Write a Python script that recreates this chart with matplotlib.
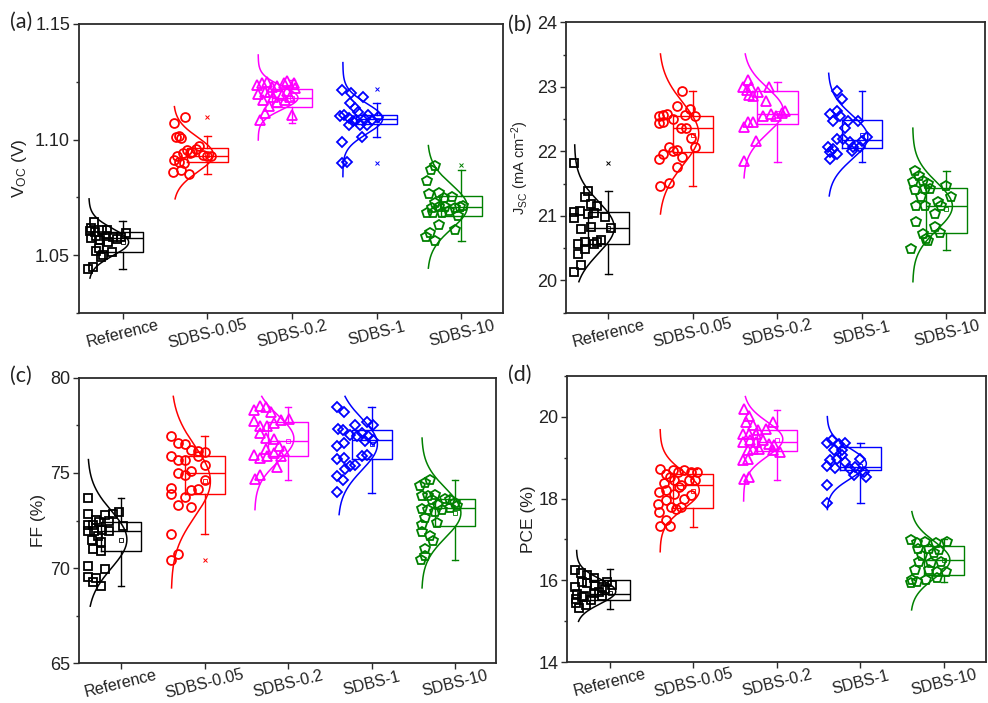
import numpy as np
import matplotlib
matplotlib.use("Agg")
import matplotlib.pyplot as plt
from matplotlib.ticker import MultipleLocator

# ---------------- data ----------------
categories = ["Reference", "SDBS-0.05", "SDBS-0.2", "SDBS-1", "SDBS-10"]

# (a) Voc
voc_ref = [1.0646,1.0606,1.0603,1.0608,1.0575,1.0582,1.0567,1.0579,1.0570,1.0596,1.0531,1.0521,1.0513,1.0491,1.0441,1.0452,1.0610,1.0579,1.0503,1.0582,1.0618,1.0556]
voc_ref_dx = [-0.34,-0.39,-0.33,-0.24,-0.37,-0.20,-0.27,-0.12,-0.07,0.04,-0.28,-0.31,-0.13,-0.26,-0.41,-0.35,-0.19,-0.02,-0.23,-0.31,-0.38,-0.17]
voc_005 = [1.1099,1.1070,1.1013,1.1006,1.0912,1.0905,1.0898,1.0862,1.0869,1.0852,1.0944,1.0955,1.0948,1.0973,1.0958,1.0934,1.0929,1.0927,1.1016,1.0941,1.0927]
voc_005_dx = [-0.26,-0.40,-0.37,-0.31,-0.39,-0.34,-0.28,-0.41,-0.31,-0.22,-0.29,-0.24,-0.18,-0.10,-0.14,-0.05,0.00,0.04,-0.34,-0.20,-0.36]
voc_02 = [1.1236,1.1243,1.1250,1.1197,1.1207,1.1226,1.1231,1.1246,1.1253,1.1243,1.1221,1.1185,1.1171,1.1164,1.1145,1.1113,1.1085,1.1106,1.1192,1.1185,1.1171,1.1211,1.1207]
voc_02_dx = [-0.42,-0.36,-0.30,-0.40,-0.32,-0.24,-0.18,-0.10,-0.06,0.02,0.04,-0.02,-0.08,-0.18,-0.27,-0.32,-0.38,0.00,-0.12,-0.22,-0.34,-0.06,-0.26]
voc_1 = [1.1214,1.1200,1.1182,1.1157,1.1135,1.1106,1.1092,1.1085,1.1106,1.1085,1.1096,1.1063,1.1013,1.0991,1.0898,1.0905,1.1063,1.1063,1.1102,1.1120,1.1078,1.1090]
voc_1_dx = [-0.41,-0.30,-0.16,-0.31,-0.26,-0.39,-0.33,-0.24,-0.10,-0.06,0.02,-0.12,-0.17,-0.41,-0.41,-0.35,-0.33,-0.20,-0.43,-0.22,-0.28,-0.14]
voc_10 = [1.0886,1.0869,1.0819,1.0766,1.0769,1.0725,1.0747,1.0754,1.0682,1.0682,1.0685,1.0690,1.0704,1.0711,1.0714,1.0668,1.0632,1.0596,1.0579,1.0560,1.0610,1.0704,1.0711,1.0711]
voc_10_dx = [-0.31,-0.36,-0.41,-0.38,-0.26,-0.31,-0.20,-0.11,-0.41,-0.33,-0.23,-0.15,-0.07,-0.02,0.02,-0.04,-0.26,-0.37,-0.42,-0.31,-0.07,-0.35,-0.27,-0.19]
voc_wlo = [1.0441,1.0852,1.1073,1.1013,1.0560]
voc_q1 = [1.0513,1.0901,1.1142,1.1067,1.0671]
voc_med = [1.0575,1.0929,1.1178,1.1087,1.0711]
voc_q3 = [1.0599,1.0963,1.1217,1.1106,1.0757]
voc_whi = [1.0647,1.1016,1.1257,1.1157,1.0869]
voc_mean = [1.0557,1.0935,1.1180,1.1085,1.0700]
voc_fliers = [[], [1.1099], [], [1.1217, 1.0898], [1.0888]]
voc_mu = [1.0557,1.0935,1.1180,1.1090,1.0710]
voc_sd = [0.0058,0.0075,0.0050,0.0065,0.0095]
voc_lo = [1.0402,1.0744,1.0998,1.0840,1.0445]
voc_hi = [1.0744,1.1142,1.1365,1.1332,1.0974]

# (b) Jsc
jsc_ref = [21.815,21.382,21.185,21.160,21.056,21.082,21.031,21.041,20.979,20.969,20.799,20.835,20.814,20.566,20.592,20.566,20.628,20.411,20.246,20.128,20.489,20.592,21.30]
jsc_ref_dx = [-0.40,-0.24,-0.20,-0.13,-0.40,-0.34,-0.24,-0.17,-0.04,-0.40,-0.32,-0.20,0.03,-0.36,-0.28,-0.17,-0.09,-0.36,-0.32,-0.40,-0.28,-0.13,-0.27]
jsc_005 = [22.930,22.697,22.656,22.553,22.553,22.568,22.579,22.501,22.568,22.434,22.450,22.362,22.362,22.207,22.073,22.073,22.011,22.021,21.918,21.960,21.882,21.753,21.505,21.459]
jsc_005_dx = [-0.13,-0.19,-0.03,0.02,-0.40,-0.35,-0.30,-0.24,-0.09,-0.40,-0.35,-0.14,-0.08,-0.02,0.03,-0.28,-0.24,-0.19,-0.13,-0.35,-0.40,-0.19,-0.28,-0.39]
jsc_02 = [23.105,22.991,22.991,22.914,22.862,22.991,22.785,22.553,22.579,22.553,22.450,22.372,22.166,21.856,22.450,22.600,22.620,22.950,22.880]
jsc_02_dx = [-0.35,-0.41,-0.31,-0.23,-0.29,-0.10,-0.13,-0.17,-0.07,-0.02,-0.35,-0.39,-0.25,-0.39,-0.29,0.05,0.09,-0.36,-0.34]
jsc_1 = [22.930,22.811,22.579,22.630,22.553,22.476,22.476,22.476,22.362,22.192,22.192,22.073,22.037,21.882,21.960,22.140,22.062,22.062,22.217,22.166,21.985,22.011]
jsc_1_dx = [-0.29,-0.24,-0.38,-0.30,-0.26,-0.16,-0.05,-0.34,-0.20,-0.30,-0.22,-0.40,-0.34,-0.38,-0.30,-0.14,-0.10,-0.02,0.06,0.00,-0.38,-0.12]
jsc_10 = [21.691,21.624,21.521,21.547,21.495,21.402,21.418,21.418,21.160,21.160,21.211,21.160,21.469,21.289,21.031,20.902,20.721,20.618,20.824,20.731,20.489,20.644,21.289]
jsc_10_dx = [-0.37,-0.32,-0.40,-0.28,-0.22,-0.37,-0.26,-0.20,-0.36,-0.26,-0.10,-0.06,0.00,0.05,-0.14,-0.36,-0.28,-0.22,-0.14,-0.08,-0.42,-0.24,-0.30]
jsc_wlo = [20.10,21.46,21.83,21.84,20.47]
jsc_q1 = [20.57,21.99,22.43,22.06,20.73]
jsc_med = [20.82,22.37,22.58,22.17,21.16]
jsc_q3 = [21.06,22.55,22.94,22.49,21.44]
jsc_whi = [21.38,22.94,23.08,22.93,21.69]
jsc_mean = [20.82,22.26,22.60,22.25,21.10]
jsc_fliers = [[21.815], [], [], [], []]
jsc_mu = [20.82,22.27,22.63,22.22,21.15]
jsc_sd = [0.40,0.48,0.35,0.34,0.37]
jsc_lo = [19.98,21.03,21.59,21.31,19.98]
jsc_hi = [22.10,23.51,23.51,23.21,22.36]

# (c) FF
ff_ref = [73.685,72.863,72.548,72.810,72.863,72.933,72.285,72.285,72.408,72.460,71.935,71.935,72.023,71.935,72.233,71.498,71.358,71.008,70.885,70.098,69.958,69.538,69.485,69.258,69.048,71.673]
ff_ref_dx = [-0.40,-0.40,-0.30,-0.19,-0.10,-0.03,-0.40,-0.34,-0.26,-0.14,-0.40,-0.32,-0.23,-0.14,0.02,-0.35,-0.24,-0.34,-0.24,-0.40,-0.19,-0.40,-0.30,-0.34,-0.24,-0.28]
ff_005 = [76.923,76.573,76.538,76.223,76.135,76.083,75.908,75.698,75.698,75.908,75.435,74.998,74.910,75.120,74.210,73.913,74.123,74.175,74.613,73.738,73.335,73.213,71.813,70.763,70.413]
ff_005_dx = [-0.40,-0.32,-0.24,-0.16,-0.08,0.00,-0.40,-0.32,-0.23,-0.08,0.00,-0.32,-0.23,-0.16,-0.40,-0.40,-0.16,-0.08,0.00,-0.23,-0.32,-0.16,-0.40,-0.32,-0.40]
ff_02 = [78.288,78.533,78.463,78.183,77.710,77.448,77.483,77.623,77.763,77.833,77.098,76.835,76.783,75.960,75.785,75.908,76.048,76.433,76.135,75.313,74.910,74.683,76.258,75.873]
ff_02_dx = [-0.41,-0.33,-0.27,-0.20,-0.41,-0.33,-0.25,-0.17,-0.09,0.01,-0.33,-0.27,-0.17,-0.41,-0.33,-0.25,-0.17,-0.11,-0.05,-0.13,-0.33,-0.40,-0.27,-0.08]
ff_1 = [78.463,78.183,77.308,77.273,77.535,77.658,77.535,77.010,76.923,77.098,76.923,76.748,76.398,76.573,76.660,75.733,75.785,75.435,75.873,75.960,74.858,75.208,75.348,74.613,73.983]
ff_1_dx = [-0.41,-0.33,-0.40,-0.34,-0.20,-0.06,0.02,-0.26,-0.18,-0.12,-0.04,0.02,-0.41,-0.33,-0.08,-0.41,-0.33,-0.20,-0.12,-0.06,-0.41,-0.32,-0.26,-0.34,-0.41]
ff_10 = [74.298,74.473,74.648,73.808,73.773,73.860,73.598,73.633,73.598,73.423,73.335,73.073,73.160,73.283,73.038,73.108,72.635,72.373,72.285,71.883,71.673,71.410,71.008,70.413,70.623,72.933]
ff_10_dx = [-0.42,-0.36,-0.30,-0.40,-0.32,-0.24,-0.28,-0.12,-0.06,0.00,-0.20,-0.16,-0.06,0.02,-0.32,-0.40,-0.36,-0.22,-0.40,-0.40,-0.30,-0.26,-0.36,-0.41,-0.36,-0.24]
ff_wlo = [69.05,71.81,74.61,73.95,70.40]
ff_q1 = [70.89,73.90,75.87,75.73,72.23]
ff_med = [71.94,75.00,76.70,76.75,73.16]
ff_q3 = [72.43,75.91,77.66,77.27,73.63]
ff_whi = [73.69,76.92,78.45,78.45,74.65]
ff_mean = [71.50,74.60,76.70,76.50,72.90]
ff_fliers = [[], [70.41], [], [], []]
ff_mu = [71.5,74.56,76.8,76.5,72.9]
ff_sd = [1.5,1.85,1.2,1.35,1.3]
ff_lo = [68.0,68.96,73.07,72.81,68.96]
ff_hi = [75.70,79.02,79.02,79.02,76.83]

# (d) PCE
pce_ref = [16.256,16.191,16.134,16.053,15.850,15.972,15.931,15.867,15.850,15.972,15.672,15.623,15.704,15.729,15.786,15.891,15.542,15.591,15.526,15.323,15.404,15.445,15.623]
pce_ref_dx = [-0.42,-0.35,-0.27,-0.19,-0.42,-0.34,-0.27,-0.18,-0.09,-0.03,-0.39,-0.31,-0.19,-0.13,-0.06,0.03,-0.41,-0.33,-0.23,-0.37,-0.29,-0.41,-0.09]
pce_005 = [18.729,18.608,18.705,18.648,18.705,18.648,18.648,18.527,18.381,18.445,18.324,18.462,18.462,18.162,18.202,18.121,18.283,18.000,18.081,17.959,17.797,17.756,17.797,17.675,17.472,17.326,17.326,17.878]
pce_005_dx = [-0.40,-0.33,-0.25,-0.18,-0.11,-0.03,0.04,-0.28,-0.35,-0.23,-0.15,-0.05,0.02,-0.41,-0.33,-0.23,-0.17,-0.11,-0.03,-0.33,-0.27,-0.21,-0.15,-0.41,-0.33,-0.40,-0.28,-0.43]
pce_02 = [20.189,20.027,19.865,19.784,19.678,19.581,19.581,19.581,19.703,19.865,19.378,19.419,19.378,19.419,19.338,19.297,19.175,19.216,19.216,18.932,18.973,18.486,18.527,19.175,19.135]
pce_02_dx = [-0.39,-0.34,-0.37,-0.29,-0.23,-0.41,-0.33,-0.25,-0.13,-0.05,-0.41,-0.32,-0.25,-0.17,-0.09,-0.03,-0.35,-0.29,-0.21,-0.41,-0.35,-0.39,-0.34,-0.05,0.04]
pce_1 = [19.354,19.419,19.338,19.354,19.175,19.054,18.932,18.786,18.754,18.892,18.729,18.770,18.973,18.648,18.567,18.527,18.324,17.894,19.175,18.973]
pce_1_dx = [-0.40,-0.34,-0.26,-0.18,-0.32,-0.22,-0.36,-0.40,-0.30,-0.18,-0.12,-0.06,0.00,0.04,-0.08,0.06,-0.40,-0.40,-0.22,-0.28]
pce_10 = [16.986,16.921,16.945,16.905,16.945,16.759,16.759,16.742,16.596,16.661,16.459,16.418,16.459,16.256,16.256,16.215,16.013,15.972,16.013,16.053,16.215,15.948]
pce_10_dx = [-0.39,-0.32,-0.23,-0.10,0.04,-0.31,-0.18,-0.06,-0.26,-0.12,-0.30,-0.16,-0.04,-0.35,-0.18,-0.08,-0.38,-0.32,-0.22,-0.08,0.02,-0.40]
pce_wlo = [15.30,17.31,18.45,17.89,15.95]
pce_q1 = [15.51,17.78,19.16,18.69,16.13]
pce_med = [15.67,18.32,19.38,18.77,16.50]
pce_q3 = [16.00,18.61,19.68,19.26,16.84]
pce_whi = [16.27,18.73,20.15,19.35,17.00]
pce_mean = [15.70,18.19,19.42,18.80,16.50]
pce_fliers = [[], [], [], [], []]
pce_mu = [15.73,18.20,19.45,18.85,16.50]
pce_sd = [0.30,0.45,0.42,0.36,0.45]
pce_lo = [15.00,16.70,17.94,17.73,15.28]
pce_hi = [16.73,19.68,20.49,20.00,17.68]

# ---------------- style ----------------
colors = ["#000000", "#FF0000", "#FF00FF", "#0000FF", "#008000"]
markers = ["s", "o", "^", "D", "p"]
msizes = [6.0, 6.4, 6.9, 5.3, 7.0]
BASE = -0.40
AMP = 0.47
FONT = "Liberation Sans"
AXCOL = "#2b2b2b"
TICKLEN = 4.5          # points
XLAB_DROP = 20.5       # pixels from axis line to label centre

plt.rcParams["font.family"] = [FONT, "DejaVu Sans"]
plt.rcParams["mathtext.fontset"] = "custom"
plt.rcParams["mathtext.rm"] = FONT
plt.rcParams["mathtext.it"] = FONT + ":italic"

fig = plt.figure(figsize=(9.88, 7.03), dpi=100)


def draw_panel(rect, xlim, ylim, major, minor, ylabel, ylab_x, ylab_size,
               groups, dxs, wlo, q1, med, q3, whi, mean, fliers, mu, sd, lo, hi,
               fmt):
    ax = fig.add_axes(rect)
    for i in range(5):
        pos = i + 1
        col = colors[i]
        st = [dict(whislo=wlo[i], q1=q1[i], med=med[i], q3=q3[i], whishi=whi[i],
                   mean=mean[i], fliers=fliers[i])]
        ax.bxp(st, positions=[pos], widths=0.48, capwidths=0.08, showmeans=True,
               manage_ticks=False,
               boxprops=dict(color=col, lw=1.0),
               whiskerprops=dict(color=col, lw=1.0),
               capprops=dict(color=col, lw=1.0),
               medianprops=dict(color=col, lw=1.0),
               meanprops=dict(marker="s", mfc="none", mec=col, ms=3, mew=0.6),
               flierprops=dict(marker="x", mfc="none", mec=col, ms=3, mew=0.7))
        yy = np.linspace(lo[i], hi[i], 300)
        xx = pos + BASE + AMP * np.exp(-0.5 * ((yy - mu[i]) / sd[i]) ** 2)
        ax.plot(xx, yy, color=col, lw=1.1)
        ax.plot(pos + np.asarray(dxs[i]), groups[i], ls="none", marker=markers[i],
                mfc="none", mec=col, ms=msizes[i], mew=1.3)
    ax.set_xlim(*xlim)
    ax.set_ylim(*ylim)
    ax.set_xticks(range(1, 6))
    ax.set_xticklabels(categories, rotation=14, ha="center", va="center",
                       rotation_mode="anchor", fontsize=11.6, color="#222222")
    ax.yaxis.set_major_locator(MultipleLocator(major))
    ax.yaxis.set_minor_locator(MultipleLocator(minor))
    ax.yaxis.set_major_formatter(matplotlib.ticker.FormatStrFormatter(fmt))
    ax.tick_params(axis="y", which="major", direction="out", length=TICKLEN, width=1.0,
                   labelsize=13, pad=2, colors=AXCOL, labelcolor="#222222")
    ax.tick_params(axis="y", which="minor", direction="out", length=2.5, width=1.0,
                   colors=AXCOL)
    xpad = XLAB_DROP * 72 / 100 - TICKLEN
    ax.tick_params(axis="x", which="major", direction="out", length=TICKLEN, width=1.0,
                   pad=xpad, colors=AXCOL, labelcolor="#222222")
    ax.tick_params(top=False, right=False)
    for s in ax.spines.values():
        s.set_linewidth(1.3)
        s.set_color(AXCOL)
    ax.set_ylabel(ylabel, fontsize=ylab_size, color="#222222")
    ax.yaxis.set_label_coords(ylab_x, 0.5)
    return ax


draw_panel([0.080, 0.5543, 0.429, 0.412], (0.484, 5.49), (1.025, 1.15), 0.05, 0.025,
           r"V$_{\mathrm{OC}}$ (V)", -0.118, 12.5,
           [voc_ref, voc_005, voc_02, voc_1, voc_10],
           [voc_ref_dx, voc_005_dx, voc_02_dx, voc_1_dx, voc_10_dx],
           voc_wlo, voc_q1, voc_med, voc_q3, voc_whi, voc_mean, voc_fliers,
           voc_mu, voc_sd, voc_lo, voc_hi, "%.2f")

draw_panel([0.5729, 0.5552, 0.4241, 0.413], (0.5, 5.456), (19.5, 24), 1, 0.5,
           r"J$_{\mathrm{SC}}$ (mA cm$^{\mathrm{-2}}$)", -0.084, 10.5,
           [jsc_ref, jsc_005, jsc_02, jsc_1, jsc_10],
           [jsc_ref_dx, jsc_005_dx, jsc_02_dx, jsc_1_dx, jsc_10_dx],
           jsc_wlo, jsc_q1, jsc_med, jsc_q3, jsc_whi, jsc_mean, jsc_fliers,
           jsc_mu, jsc_sd, jsc_lo, jsc_hi, "%d")

draw_panel([0.080, 0.0565, 0.422, 0.4062], (0.497, 5.49), (65, 80), 5, 2.5,
           "FF (%)", -0.079, 12.5,
           [ff_ref, ff_005, ff_02, ff_1, ff_10],
           [ff_ref_dx, ff_005_dx, ff_02_dx, ff_1_dx, ff_10_dx],
           ff_wlo, ff_q1, ff_med, ff_q3, ff_whi, ff_mean, ff_fliers,
           ff_mu, ff_sd, ff_lo, ff_hi, "%d")

draw_panel([0.5742, 0.0579, 0.4233, 0.4077], (0.49, 5.497), (14, 21), 2, 1,
           "PCE (%)", -0.075, 12.5,
           [pce_ref, pce_005, pce_02, pce_1, pce_10],
           [pce_ref_dx, pce_005_dx, pce_02_dx, pce_1_dx, pce_10_dx],
           pce_wlo, pce_q1, pce_med, pce_q3, pce_whi, pce_mean, pce_fliers,
           pce_mu, pce_sd, pce_lo, pce_hi, "%d")

lab_kw = dict(fontsize=15.5, family=["Lato", "DejaVu Sans"], color="#222222",
              va="center", ha="left")
fig.text(10 / 988, 1 - 22 / 703, "(a)", **lab_kw)
fig.text(508 / 988, 1 - 25 / 703, "(b)", **lab_kw)
fig.text(10 / 988, 1 - 376 / 703, "(c)", **lab_kw)
fig.text(508 / 988, 1 - 375 / 703, "(d)", **lab_kw)

fig.savefig("out.png", dpi=100)
